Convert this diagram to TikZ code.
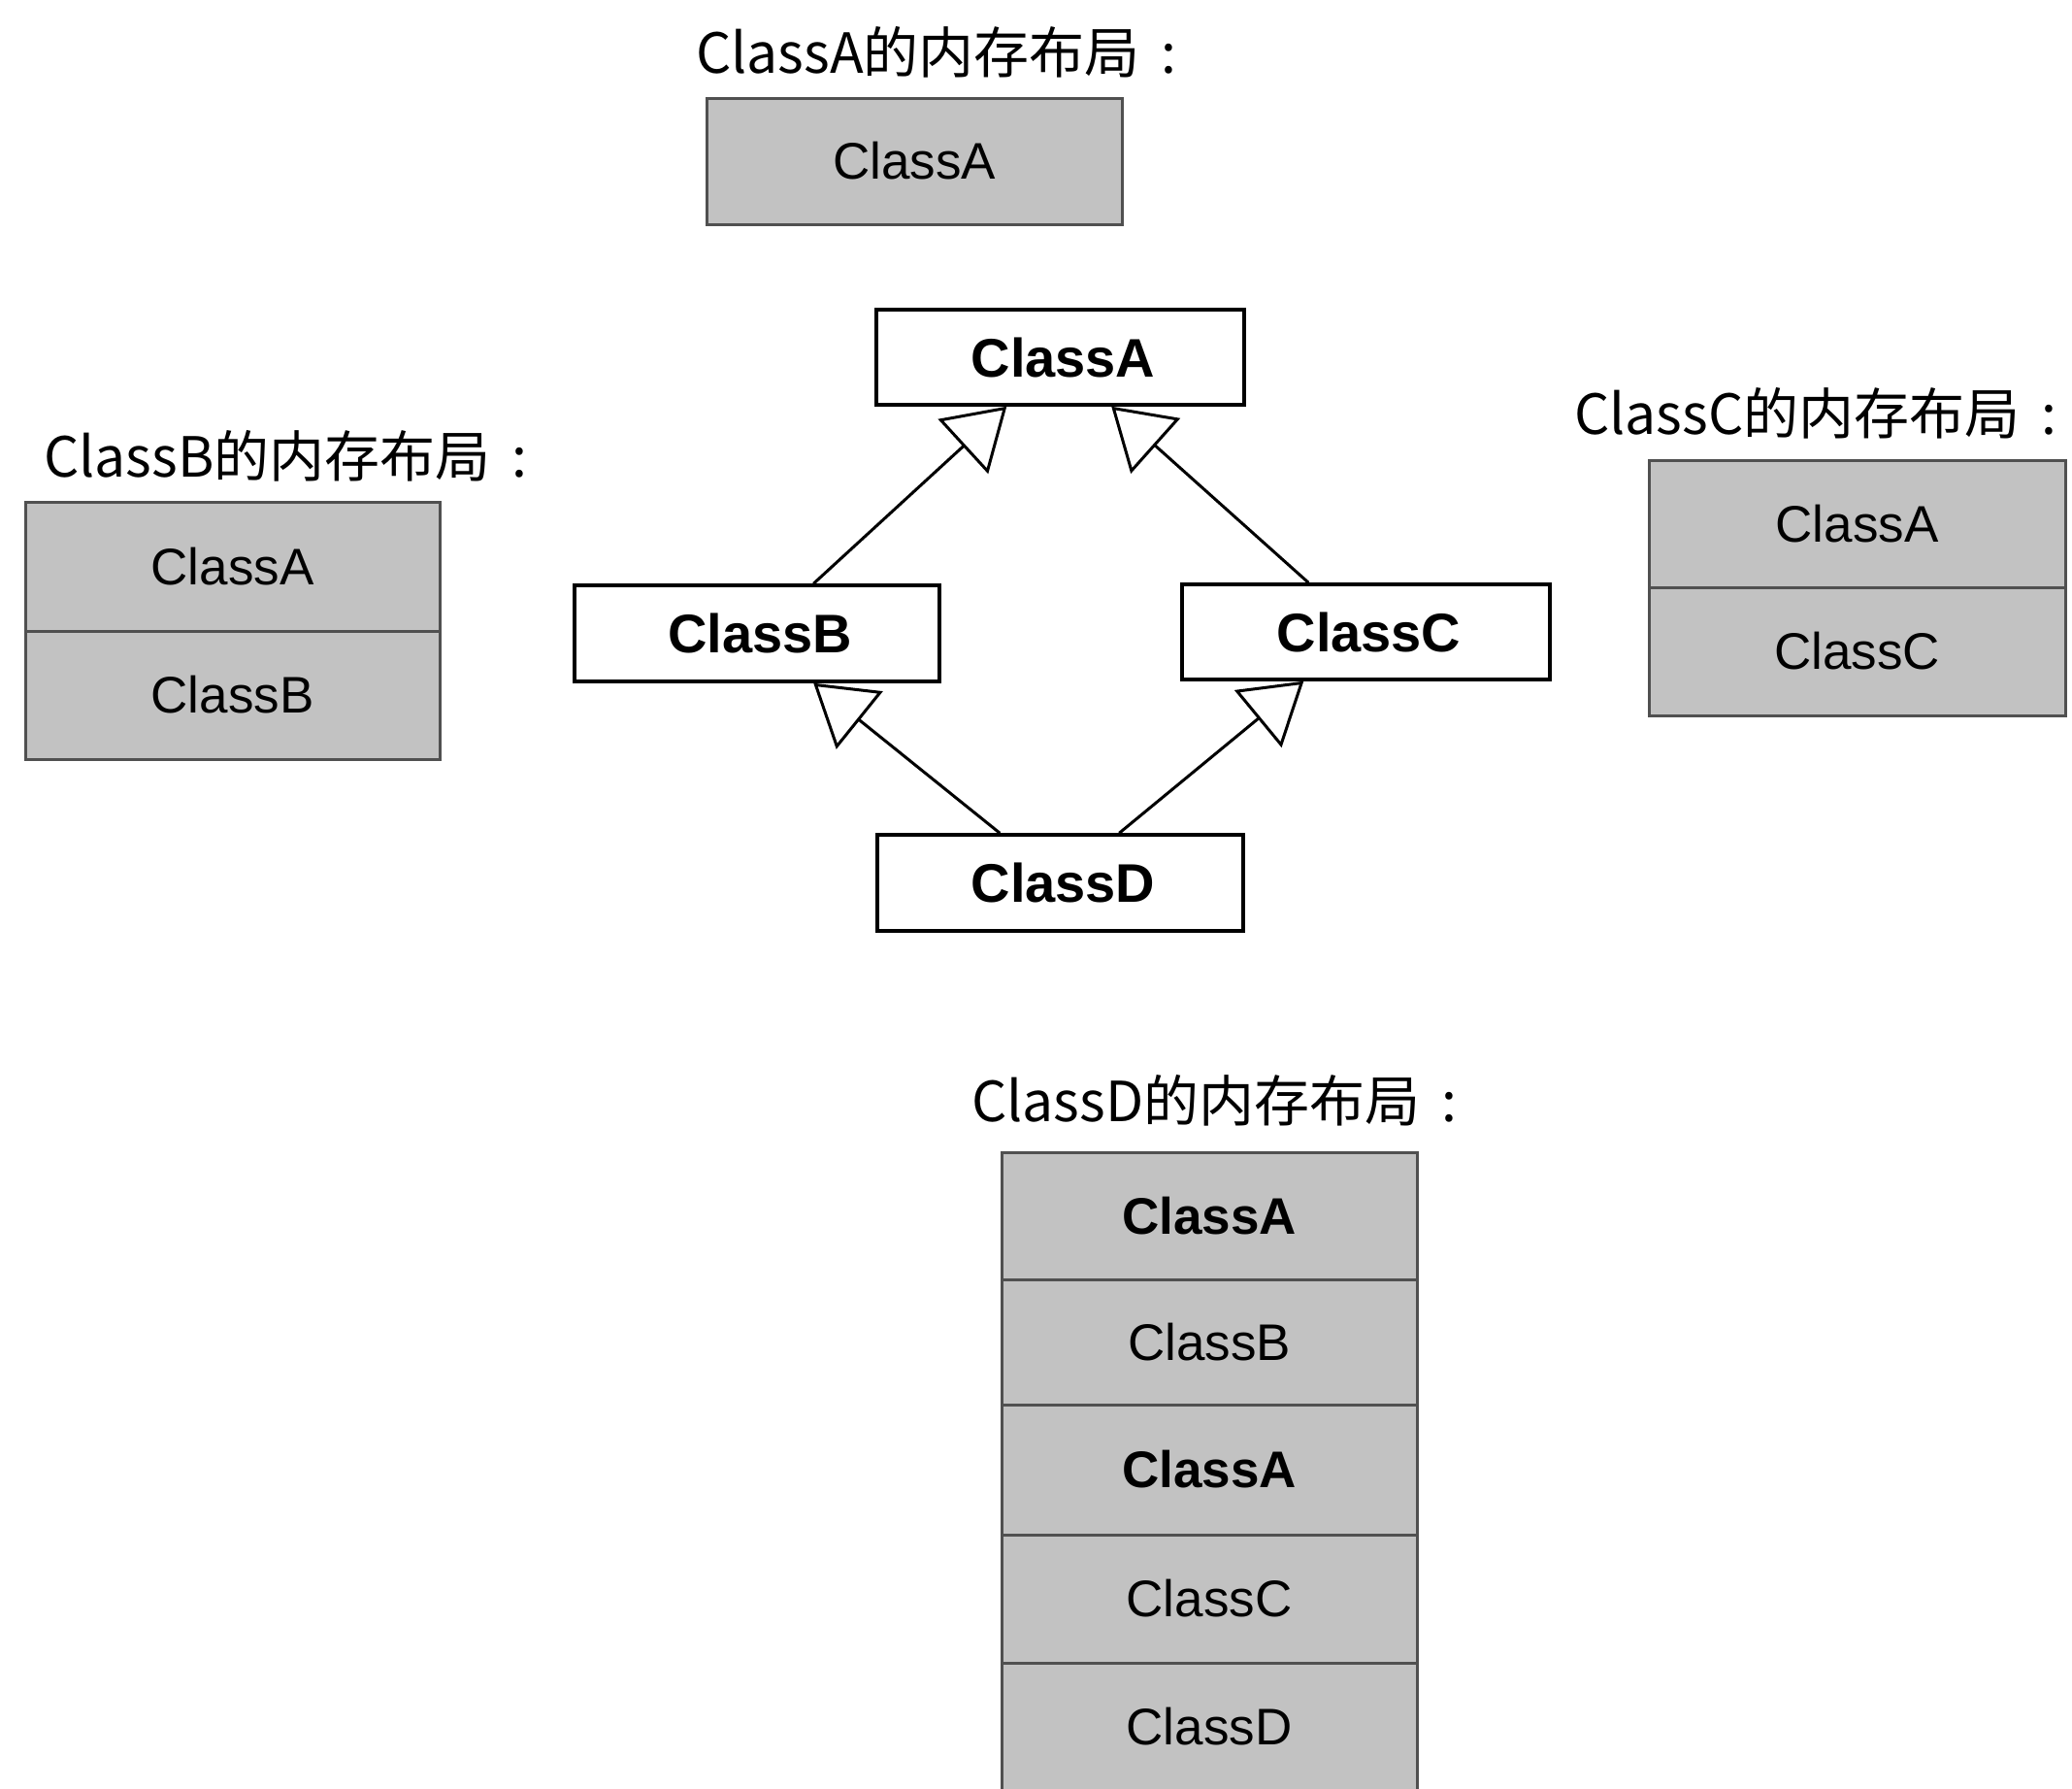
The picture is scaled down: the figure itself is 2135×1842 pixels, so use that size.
\documentclass[tikz,border=0pt]{standalone}
\usepackage{fontspec}
\usetikzlibrary{arrows.meta,calc}
\newfontfamily\cjkfont{Noto Sans CJK SC}
\newfontfamily\arialfont{Liberation Sans}
\newcommand\capfont{\cjkfont\fontsize{57}{62}\selectfont}
\newcommand\umlfont{\arialfont\bfseries\fontsize{56}{62}\selectfont}
\newcommand\cellfont{\arialfont\fontsize{53}{60}\selectfont}
% caption text: class name, fixed words, spaced colon
\newcommand\layoutcaption[1]{#1的内存布局\kern 22pt:}
\definecolor{cellgray}{RGB}{194,194,194}
\definecolor{cellline}{RGB}{80,80,80}
\tikzset{
  umlbox/.style={draw=black, line width=3.5pt, fill=white, inner sep=0pt,
    minimum width=378pt, minimum height=98pt, font=\umlfont},
  cell/.style={draw=cellline, line width=3pt, fill=cellgray, inner sep=0pt,
    minimum width=428pt, font=\cellfont},
  caption/.style={anchor=west, inner sep=0pt, font=\capfont},
  inherit/.style={draw=black, line width=3pt,
    -{Triangle[open, length=61pt, width=76pt, line width=3pt]}}
}
\begin{document}
\begin{tikzpicture}[x=1pt, y=-1pt]
\useasboundingbox (0,0) rectangle (2135,1842);
\clip (0,0) rectangle (2135,1842);
\fill[white] (0,0) rectangle (2135,1842);

% memory layout of ClassA
\node[caption] (capA) at (717,54) {\layoutcaption{ClassA}};
\node[cell, minimum height=130pt] (la1) at (942,166) {ClassA};

% memory layout of ClassB
\node[caption] (capB) at (45,470) {\layoutcaption{ClassB}};
\node[cell, minimum width=427pt, minimum height=133pt] (lb1) at (239.5,583.5) {ClassA};
\node[cell, minimum width=427pt, minimum height=132pt] (lb2) at (239.5,716) {ClassB};

% memory layout of ClassC
\node[caption] (capC) at (1622,426) {\layoutcaption{ClassC}};
\node[cell, minimum width=429pt, minimum height=131pt] (lc1) at (1913.5,539.5) {ClassA};
\node[cell, minimum width=429pt, minimum height=132pt] (lc2) at (1913.5,671) {ClassC};

% memory layout of ClassD
\node[caption] (capD) at (1001,1134) {\layoutcaption{ClassD}};
\node[cell, minimum height=131pt] (ld1) at (1246,1252.5) {\bfseries ClassA};
\node[cell, minimum height=129pt] (ld2) at (1246,1382.5) {ClassB};
\node[cell, minimum height=134pt] (ld3) at (1246,1514) {\bfseries ClassA};
\node[cell, minimum height=132pt] (ld4) at (1246,1647) {ClassC};
\node[cell, minimum height=132pt] (ld5) at (1246,1779) {ClassD};

% class hierarchy
\node[umlbox, minimum width=379pt] (A) at (1092.5,368) {\kern 6pt ClassA};
\node[umlbox, minimum width=376pt, minimum height=99pt] (B) at (780,652.5) {\kern 6pt ClassB};
\node[umlbox, minimum width=379pt] (C) at (1407.5,651) {\kern 6pt ClassC};
\node[umlbox, minimum width=377pt, minimum height=99pt] (D) at (1092.5,909.5) {\kern 6pt ClassD};

\coordinate (bOut) at ($(B.north west)+(248,0)$);
\coordinate (cOut) at ($(C.north west)+(132,0)$);
\coordinate (dOutL) at ($(D.north west)+(128,0)$);
\coordinate (dOutR) at ($(D.north west)+(251,0)$);
\coordinate (aInL) at ($(A.south west)+(136,0)$);
\coordinate (aInR) at ($(A.south west)+(244,0)$);
\coordinate (bIn) at ($(B.south west)+(248,0)$);
\coordinate (cIn) at ($(C.south west)+(127,0)$);

\draw[inherit] (bOut) -- (aInL);
\draw[inherit] (cOut) -- (aInR);
\draw[inherit] (dOutL) -- (bIn);
\draw[inherit] (dOutR) -- (cIn);
\end{tikzpicture}
\end{document}
